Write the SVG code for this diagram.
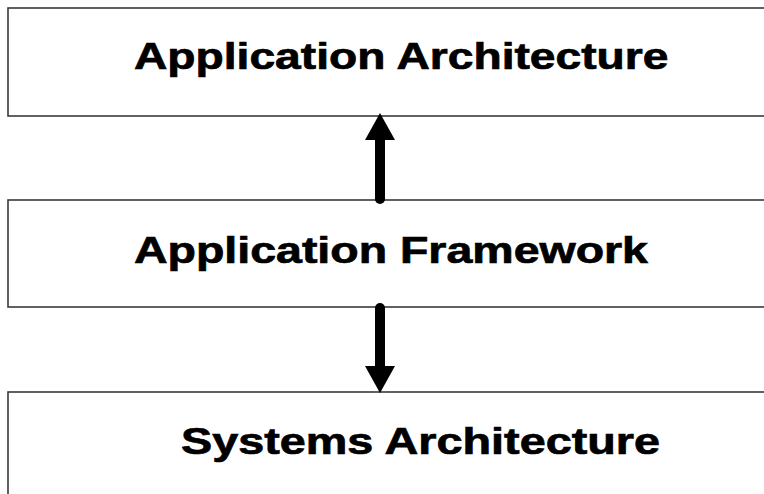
<svg xmlns="http://www.w3.org/2000/svg" width="764" height="494" viewBox="0 0 764 494">
<style>
.box{fill:#ffffff;stroke:#3a3a3a;stroke-width:1.6}
.lbl{font-family:"Liberation Sans",Arial,sans-serif;font-weight:bold;font-size:37px;fill:#000000;stroke:#000000;stroke-width:0.7}
.shaft{stroke:#000000;stroke-width:10;stroke-linecap:round;fill:none}
.head{fill:#000000}
</style>
<rect x="0" y="0" width="764" height="494" fill="#ffffff"/>
<g id="app-architecture">
<rect class="box" x="8" y="8" width="770" height="108"/>
<text class="lbl" transform="translate(134,69) scale(1.24,1)" x="0" y="0" textLength="431" lengthAdjust="spacingAndGlyphs">Application Architecture</text>
</g>
<g id="app-framework">
<rect class="box" x="8" y="200" width="770" height="107"/>
<text class="lbl" transform="translate(134,263) scale(1.24,1)" x="0" y="0" textLength="414.5" lengthAdjust="spacingAndGlyphs">Application Framework</text>
</g>
<g id="systems-architecture">
<rect class="box" x="8" y="392" width="770" height="120"/>
<text class="lbl" transform="translate(181,454) scale(1.24,1)" x="0" y="0" textLength="386.3" lengthAdjust="spacingAndGlyphs">Systems Architecture</text>
</g>
<g id="connectors">
<line class="shaft" x1="380" y1="199" x2="380" y2="138"/>
<polygon class="head" points="380,113 365,140 395,140"/>
<line class="shaft" x1="380" y1="308" x2="380" y2="369"/>
<polygon class="head" points="365,366 395,366 380,393"/>
</g>
</svg>
